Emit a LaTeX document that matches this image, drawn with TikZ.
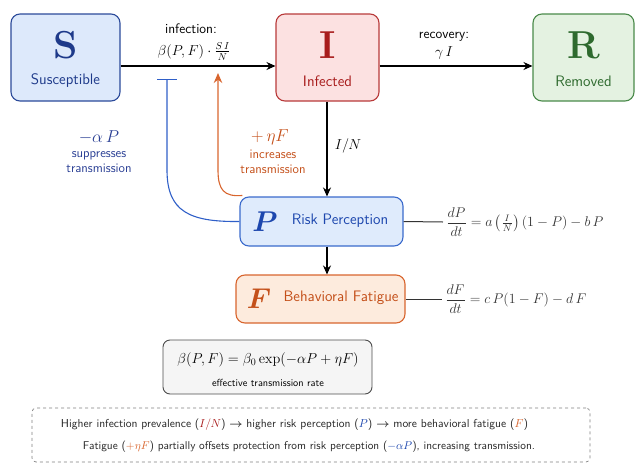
\documentclass[tikz,border=0pt]{standalone}
\usepackage{amsmath}
\usepackage{graphicx}
\usetikzlibrary{arrows.meta,positioning,calc}
\definecolor{sblue}{HTML}{2B4A9A}
\definecolor{sfill}{HTML}{DDE9FB}
\definecolor{stext}{HTML}{1E3A8A}
\definecolor{ired}{HTML}{B83A3A}
\definecolor{ifill}{HTML}{FCE1E1}
\definecolor{itext}{HTML}{A81C1C}
\definecolor{rgreen}{HTML}{4A8A4A}
\definecolor{rfill}{HTML}{E4F2E1}
\definecolor{rtext}{HTML}{2E6A2E}
\definecolor{pblue}{HTML}{3A6ACC}
\definecolor{pfill}{HTML}{DFEBFC}
\definecolor{ptext}{HTML}{1D47AE}
\definecolor{forange}{HTML}{D8652E}
\definecolor{ffill}{HTML}{FDEBDD}
\definecolor{ftext}{HTML}{C4501A}
\definecolor{inhib}{HTML}{2F5FC8}
\definecolor{labblue}{HTML}{2A3F94}
\definecolor{eqgray}{HTML}{333333}
\tikzset{
  box/.style={draw, line width=1.1pt, rounded corners=9pt, inner sep=0pt},
  arr/.style={line width=1.1pt, -{Stealth[length=9pt,width=8pt]}},
  lab/.style={font=\sffamily\fontsize{13.8}{15}\selectfont, align=center, inner sep=1pt},
  big/.style={font=\bfseries\fontsize{39}{40}\selectfont, inner sep=0pt},
  sub/.style={font=\sffamily\fontsize{15.2}{17}\selectfont, inner sep=0pt},
  small/.style={font=\sffamily\fontsize{13}{15}\selectfont, align=center, inner sep=1pt},
  mlab/.style={font=\fontsize{14.4}{16}\selectfont, inner sep=1pt},
  eqn/.style={anchor=west, text=eqgray, inner sep=0pt, font=\fontsize{12}{14}\selectfont},
  foot/.style={inner sep=0pt, font=\sffamily\fontsize{10}{12}\selectfont, text=black!85},
}
\begin{document}
\begin{tikzpicture}[x=1pt,y=-1pt]
\useasboundingbox (0,0) rectangle (641,464);
% compartments
\node[box, draw=sblue, fill=sfill, minimum width=109pt, minimum height=87pt] (S) at (65.5,57.5) {};
\node[big, text=stext] (Sl) at (65.5,45.5) {S};
\node[sub, text=stext] (St) at (65.5,81) {Susceptible};
\node[box, draw=ired, fill=ifill, minimum width=103pt, minimum height=87pt] (I) at (327.5,57.5) {};
\node[big, text=itext] (Il) at (327.5,45.5) {I};
\node[sub, text=itext] (It) at (327.5,81) {Infected};
\node[box, draw=rgreen, fill=rfill, minimum width=101pt, minimum height=87pt] (R) at (583.5,57.5) {};
\node[big, text=rtext] (Rl) at (583.5,45.5) {R};
\node[sub, text=rtext] (Rt) at (583.5,81) {Removed};
% P and F
\node[box, draw=pblue, fill=pfill, minimum width=163pt, minimum height=49pt] (P) at (321.5,221.5) {};
\node[font=\fontsize{24.88}{26}\selectfont, text=ptext, inner sep=0pt] (Pl) at (265,222) {\scalebox{1.15}{$\boldsymbol{P}$}};
\node[sub, text=ptext] (Pt) at (340,221) {Risk Perception};
\node[box, draw=forange, fill=ffill, minimum width=169pt, minimum height=48pt] (F) at (320.5,299) {};
\node[font=\fontsize{24.88}{26}\selectfont, text=ftext, inner sep=0pt] (Fl) at (259,299) {\scalebox{1.15}{$\boldsymbol{F}$}};
\node[sub, text=ftext] (Ft) at (341,298) {Behavioral Fatigue};
% main arrows
\draw[arr] ([yshift=-8.5pt]S.east) -- ([yshift=-8.5pt]I.west);
\node[lab] (inf) at (191,29) {infection:};
\node[mlab] (infm) at (194,51.5) {$\beta(P,F)\cdot\frac{S\,I}{N}$};
\draw[arr] ([yshift=-8.5pt]I.east) -- ([yshift=-8.5pt]R.west);
\node[lab] (rec) at (444,37) {recovery:};
\node[mlab] (recm) at (444,53) {$\gamma\, I$};
\draw[arr] (I.south -| 327,0) -- (P.north -| 327,0);
\node[mlab] (IN) at (348,146) {$I/N$};
\draw[arr] (P.south -| 327,0) -- (F.north -| 327,0);
% feedback
\coordinate (bar) at (167,79);
\draw[inhib, line width=1.1pt, -{Bar[width=20pt,line width=1.4pt]}] (P.west) .. controls (190,222) and (167,212) .. (167,170) -- (bar);
\coordinate (tip) at (218,73);
\draw[forange, line width=1.1pt, -{Stealth[length=10pt,width=8.5pt]}] ([xshift=3pt,yshift=1pt]P.north west) .. controls (224,197) and (218,190) .. (218,170) -- (tip);
\node[text=labblue, font=\fontsize{17.28}{18}\selectfont, inner sep=1pt] (aP) at (99,137) {$-\alpha\,P$};
\node[small, text=labblue] (aPt) at (99,162) {suppresses\\transmission};
\node[text=ftext, font=\fontsize{17.28}{18}\selectfont, inner sep=1pt] (eF) at (270,137) {$+\,\eta F$};
\node[small, text=ftext] (eFt) at (273,162) {increases\\transmission};
% equations
\node[eqn] (eqP) at (446,222) {\scalebox{1.17}{$\dfrac{dP}{dt}=a\left(\frac{I}{N}\right)(1-P)-b\,P$}};
\draw[line width=1pt, eqgray] (P.east) -- ([xshift=-3pt]eqP.west);
\node[eqn] (eqF) at (445,299) {\scalebox{1.17}{$\dfrac{dF}{dt}=c\,P(1-F)-d\,F$}};
\draw[line width=1pt, eqgray] (F.east) -- ([xshift=-3pt]eqF.west);
% beta box
\node[draw=black!70, fill=black!4, line width=0.9pt, rounded corners=7pt, minimum width=209pt, minimum height=54pt] (B) at (267.5,367) {};
\node[inner sep=0pt, font=\fontsize{14.4}{16}\selectfont] (Be) at (268,359.5) {$\beta(P,F)=\beta_0\exp(-\alpha P+\eta F)$};
\node[inner sep=0pt, font=\sffamily\fontsize{10.3}{12}\selectfont] (Bt) at (268,383) {effective transmission rate};
% dashed summary
\node[draw=black!50, dashed, line width=0.7pt, rounded corners=4pt, minimum width=558pt, minimum height=54pt] (D) at (311,435) {};
\node[foot] (D1) at (294.5,425) {\resizebox{467pt}{!}{Higher infection prevalence ({\color{itext}$I/N$}) $\boldsymbol{\rightarrow}$ higher risk perception ({\color{ptext}$P$}) $\boldsymbol{\rightarrow}$ more behavioral fatigue ({\color{forange}$F$})}};
\node[foot] (D2) at (309,447) {\resizebox{452pt}{!}{Fatigue ({\color{forange}$+\eta F$}) partially offsets protection from risk perception ({\color{ptext}$-\alpha P$}), increasing transmission.}};
\end{tikzpicture}
\end{document}
